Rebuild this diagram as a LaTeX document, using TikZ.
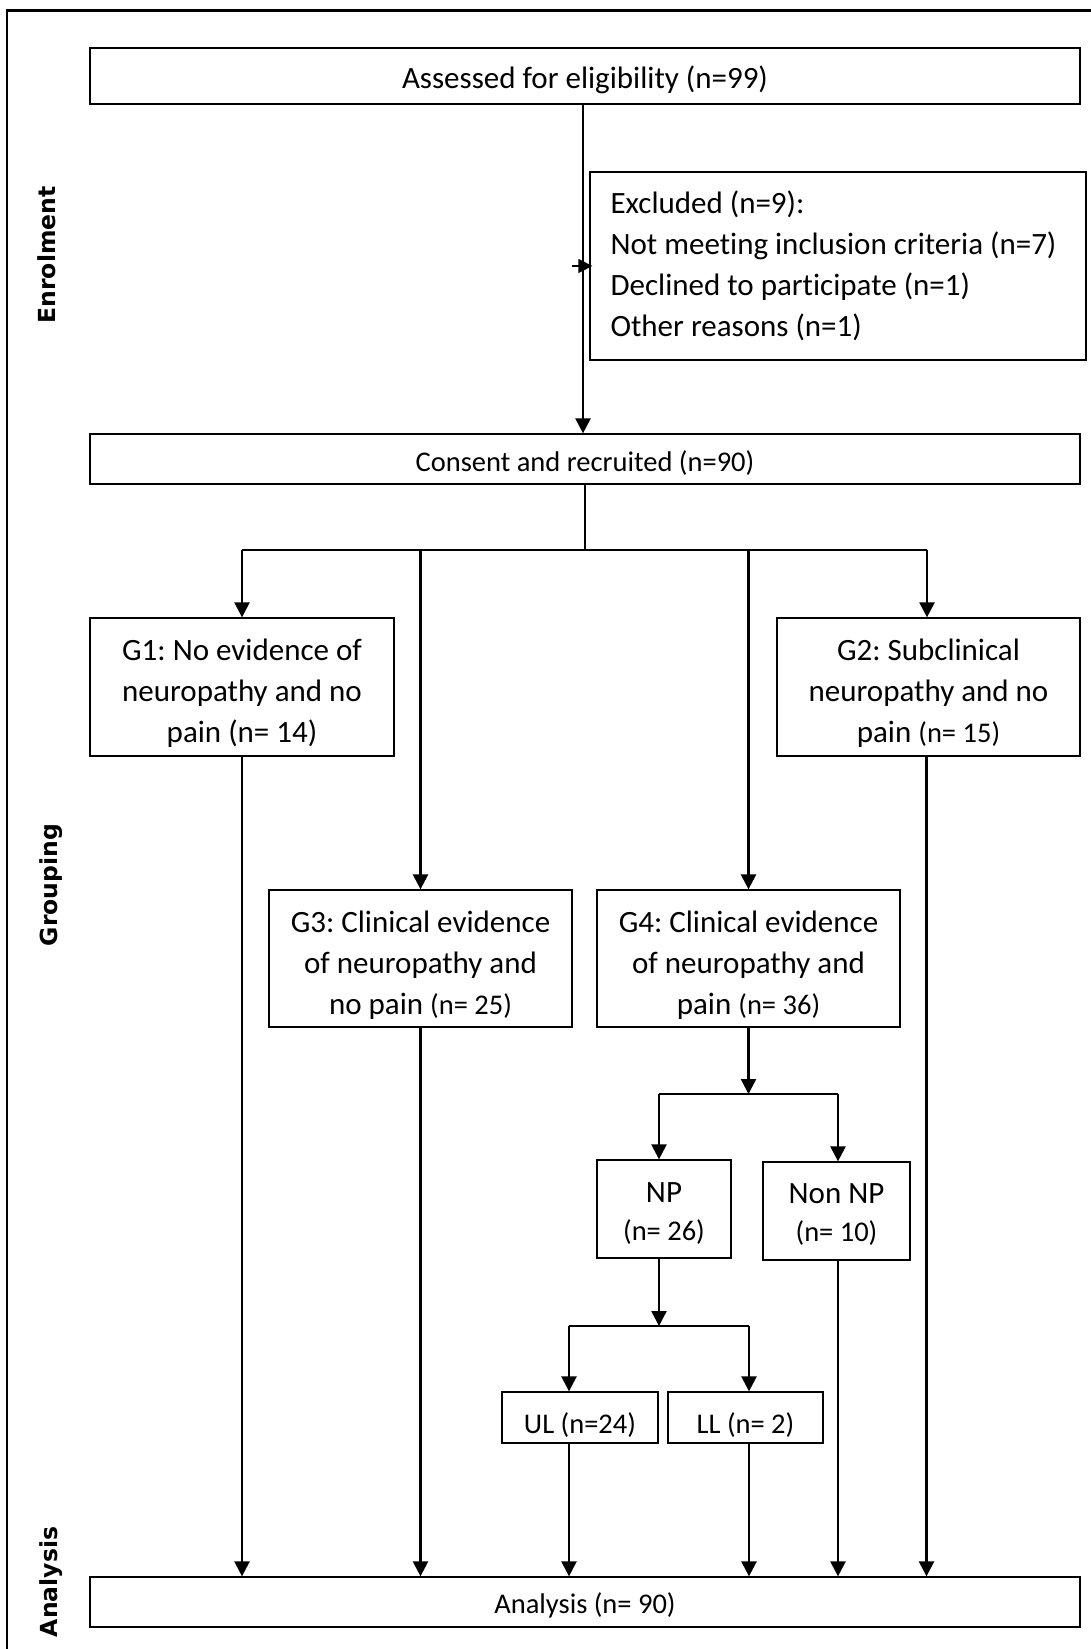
\documentclass[tikz,border=0pt]{standalone}
\usepackage{fontspec}
\setmainfont{Carlito}[Ligatures={NoCommon}]
\newfontfamily\sidefont{DejaVu Sans}
\usetikzlibrary{arrows.meta}
\newcommand\tstrut[1]{\rule{0pt}{#1pt}}
\frenchspacing
\begin{document}
\begin{tikzpicture}[x=1pt,y=-1pt,
  box/.style={draw=black,line width=1.3pt,inner sep=0pt,align=center,font=\fontsize{31}{41}\selectfont},
  smallbox/.style={box,font=\fontsize{28.5}{38}\selectfont},
  arr/.style={line width=2.4pt,-{Triangle[width=15pt,length=15pt]}},
  link/.style={line width=2.2pt},
  thin/.style={line width=1.3pt},
  side/.style={anchor=base,rotate=90,font=\sidefont\bfseries\fontsize{23.5}{28}\selectfont}]
\useasboundingbox (0,0) rectangle (1091,1649);
% outer frame
\draw[line width=2.5pt] (7,1660) -- (7,10.5) -- (1100,10.5);
% side labels
\node[side] (lenr) at (55,255) {Enrolment};
\node[side] (lgrp) at (57,885) {Grouping};
\node[side] (lana) at (57,1582) {Analysis};
% boxes
\node[box,minimum width=990pt,minimum height=56pt] (ass) at (585,76) {\tstrut{31}Assessed for eligibility (n=99)};
\node[box,minimum width=496pt,minimum height=188pt] (exc) at (838,266) {};
\node[anchor=west,align=left,inner sep=0pt,font=\fontsize{31}{41}\selectfont] (exctext) at ([xshift=21pt]exc.west) {Excluded (n=9):\\Not meeting inclusion criteria (n=7)\\Declined to participate (n=1)\\Other reasons (n=1)};
\node[smallbox,minimum width=990pt,minimum height=50pt] (con) at (585,459) {\tstrut{28}Consent and recruited (n=90)};
\node[box,minimum width=304pt,minimum height=138pt] (g1) at (242,687) {\tstrut{34}G1: No evidence of\\neuropathy and no\\pain (n= 14)};
\node[box,minimum width=303pt,minimum height=138pt] (g2) at (928.5,687) {\tstrut{34}G2: Subclinical\\neuropathy and no\\pain {\fontsize{28.5}{41}\selectfont(n= 15)}};
\node[box,minimum width=303pt,minimum height=137pt] (g3) at (420.5,958.5) {\tstrut{34}G3: Clinical evidence\\of neuropathy and\\no pain {\fontsize{28.5}{41}\selectfont(n= 25)}};
\node[box,minimum width=303pt,minimum height=137pt] (g4) at (748.5,958.5) {\tstrut{34}G4: Clinical evidence\\of neuropathy and\\pain {\fontsize{28.5}{41}\selectfont(n= 36)}};
\node[box,minimum width=134pt,minimum height=98pt,font=\fontsize{31}{38}\selectfont] (np) at (664,1209) {\tstrut{28.5}NP\\{\fontsize{28.5}{38}\selectfont(n= 26)}};
\node[box,minimum width=147pt,minimum height=98pt,font=\fontsize{31}{38}\selectfont] (nonnp) at (836.5,1211) {\tstrut{26.5}Non NP\\{\fontsize{28.5}{38}\selectfont(n= 10)}};
\node[smallbox,minimum width=156pt,minimum height=51pt] (ul) at (580,1417.5) {\tstrut{36}UL (n=24)};
\node[smallbox,minimum width=155pt,minimum height=51pt] (ll) at (745.5,1417.5) {\tstrut{36}LL (n= 2)};
\node[smallbox,minimum width=990pt,minimum height=50pt] (ana) at (585,1602) {\tstrut{28}Analysis (n= 90)};
% enrolment connectors
\draw[arr] ([xshift=-2pt]ass.south) -- ([xshift=-2pt]ass.south |- con.north);
\coordinate (excfrom) at (572,266);
\draw[line width=1.5pt,-{Triangle[width=14pt,length=14pt]}] (excfrom) -- ([xshift=3pt]exc.west);
% grouping branch
\coordinate (b0) at (585,550);
\coordinate (bL) at (242,550);
\coordinate (bR) at (927,550);
\draw[thin] (con.south) -- (b0);
\draw[thin] (bL) -- (bR);
\draw[arr] (bL) -- (bL |- g1.north);
\draw[arr] (bR) -- (bR |- g2.north);
\draw[arr] (g3.north |- b0) -- (g3.north);
\draw[arr] (g4.north |- b0) -- (g4.north);
% G4 split
\coordinate (s1) at (748.5,1094);
\coordinate (s1L) at (659,1094);
\coordinate (s1R) at (838,1094);
\draw[arr] (g4.south) -- (s1);
\draw[link] (s1L) -- (s1R);
\draw[arr] (s1L) -- (s1L |- np.north);
\draw[arr] (s1R) -- (s1R |- nonnp.north);
% NP split
\coordinate (s2) at (659,1326);
\coordinate (s2L) at (569,1326);
\coordinate (s2R) at (749,1326);
\draw[arr] (s2 |- np.south) -- (s2);
\draw[link] (s2L) -- (s2R);
\draw[arr] (s2L) -- (s2L |- ul.north);
\draw[arr] (s2R) -- (s2R |- ll.north);
% to analysis
\draw[arr] (g1.south) -- (g1.south |- ana.north);
\draw[arr] (g3.south) -- (g3.south |- ana.north);
\draw[arr] (s2L |- ul.south) -- (s2L |- ana.north);
\draw[arr] (s2R |- ll.south) -- (s2R |- ana.north);
\draw[arr] (s1R |- nonnp.south) -- (s1R |- ana.north);
\draw[arr] ([xshift=-2pt]g2.south) -- ([xshift=-2pt]g2.south |- ana.north);
\end{tikzpicture}
\end{document}
